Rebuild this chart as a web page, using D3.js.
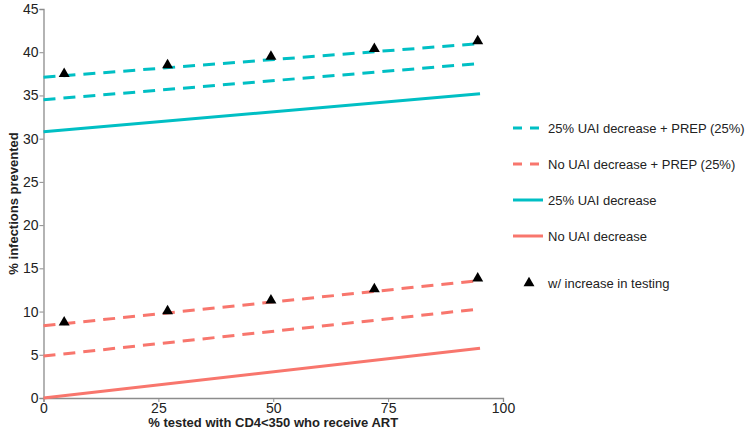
<!DOCTYPE html>
<html>
<head>
<meta charset="utf-8">
<script src="https://cdn.jsdelivr.net/npm/d3@7"></script>
<style>
  body { margin: 0; background: #fff; }
  text { font-family: "Liberation Sans", Arial, sans-serif; }
</style>
</head>
<body>
<svg id="chart" width="747" height="436"></svg>
<script>
// ---- data ----
const xStart = 0, xEnd = 95;
const seriesNames = ["25% UAI decrease + PREP (25%)", "No UAI decrease + PREP (25%)", "25% UAI decrease", "No UAI decrease"];
const seriesStart = [34.5, 4.85, 30.8, 0.0];
const seriesEnd   = [38.7, 10.3, 35.2, 5.75];
const seriesColor = ["#00BFC4", "#F8766D", "#00BFC4", "#F8766D"];
const seriesDashed = [true, true, false, false];
// "w/ increase in testing" lines (dashed) and triangles
const testStart = [37.1, 8.35];
const testEnd   = [41.0, 13.6];
const testColor = ["#00BFC4", "#F8766D"];
const triX = [4.5, 27, 49.5, 72, 94.5];
const triCyan = [37.5, 38.5, 39.5, 40.4, 41.3];
const triRed = [8.75, 10.05, 11.3, 12.6, 13.85];
const xTicks = [0, 25, 50, 75, 100];
const yTicks = [0, 5, 10, 15, 20, 25, 30, 35, 40, 45];
const triLabel = "w/ increase in testing";
const xTitle = "% tested with CD4<350 who receive ART";
const yTitle = "% infections prevented";

// ---- chart ----
const svg = d3.select("#chart");
const x = d3.scaleLinear().domain([0, 100]).range([43.5, 503]);
const y = d3.scaleLinear().domain([0, 45]).range([398, 9]);
const axisColor = "#8c8c8c";

const xAxis = svg.append("g").attr("transform", "translate(0,398)")
  .call(d3.axisBottom(x).tickValues(xTicks).tickSize(4).tickPadding(1));
const yAxis = svg.append("g").attr("transform", "translate(43.5,0)")
  .call(d3.axisLeft(y).tickValues(yTicks).tickSize(4).tickPadding(1));
[xAxis, yAxis].forEach(a => {
  a.select(".domain").attr("stroke", axisColor).attr("stroke-width", 1.3);
  a.selectAll(".tick line").attr("stroke", axisColor);
  a.selectAll(".tick text").attr("fill", "#222").style("font-size", "14px")
    .style("font-family", "'Liberation Sans', Arial, sans-serif");
});

const line = d3.line().x(d => x(d[0])).y(d => y(d[1]));
seriesNames.forEach((n, i) => {
  svg.append("path")
    .attr("d", line([[xStart, seriesStart[i]], [xEnd, seriesEnd[i]]]))
    .attr("fill", "none")
    .attr("stroke", seriesColor[i])
    .attr("stroke-width", 3)
    .attr("stroke-dasharray", seriesDashed[i] ? "12,8" : null);
});
testStart.forEach((s, i) => {
  svg.append("path")
    .attr("d", line([[xStart, s], [xEnd, testEnd[i]]]))
    .attr("fill", "none")
    .attr("stroke", testColor[i])
    .attr("stroke-width", 3)
    .attr("stroke-dasharray", "12,8");
});

const tri = d3.symbol().type(d3.symbolTriangle).size(52);
[triCyan, triRed].forEach(vals => {
  svg.append("g").selectAll("path").data(triX.map((v, i) => [v, vals[i]]))
    .join("path")
    .attr("d", tri)
    .attr("transform", d => `translate(${x(d[0])},${y(d[1])})`)
    .attr("fill", "#000");
});

// axis titles
svg.append("text").attr("x", (x(0) + x(100)) / 2).attr("y", 427)
  .attr("text-anchor", "middle").style("font-size", "13px").style("font-weight", "bold")
  .attr("fill", "#222").text(xTitle);
svg.append("text").attr("transform", `translate(13,${y(22.5)}) rotate(-90)`)
  .attr("text-anchor", "middle").attr("dy", "0.35em").style("font-size", "13px").style("font-weight", "bold")
  .attr("fill", "#222").text(yTitle);

// legend
const legY = [128, 164, 200, 236];
seriesNames.forEach((n, i) => {
  svg.append("line").attr("x1", 513).attr("x2", 543).attr("y1", legY[i]).attr("y2", legY[i])
    .attr("stroke", seriesColor[i]).attr("stroke-width", 3)
    .attr("stroke-dasharray", seriesDashed[i] ? "9,8" : null);
  svg.append("text").attr("x", 548).attr("y", legY[i]).attr("dy", "0.35em")
    .style("font-size", "13px").attr("fill", "#222").text(n);
});
svg.append("path").attr("d", tri).attr("transform", "translate(529,283)").attr("fill", "#000");
svg.append("text").attr("x", 548).attr("y", 283).attr("dy", "0.35em")
  .style("font-size", "13px").attr("fill", "#222").text(triLabel);
</script>
</body>
</html>
